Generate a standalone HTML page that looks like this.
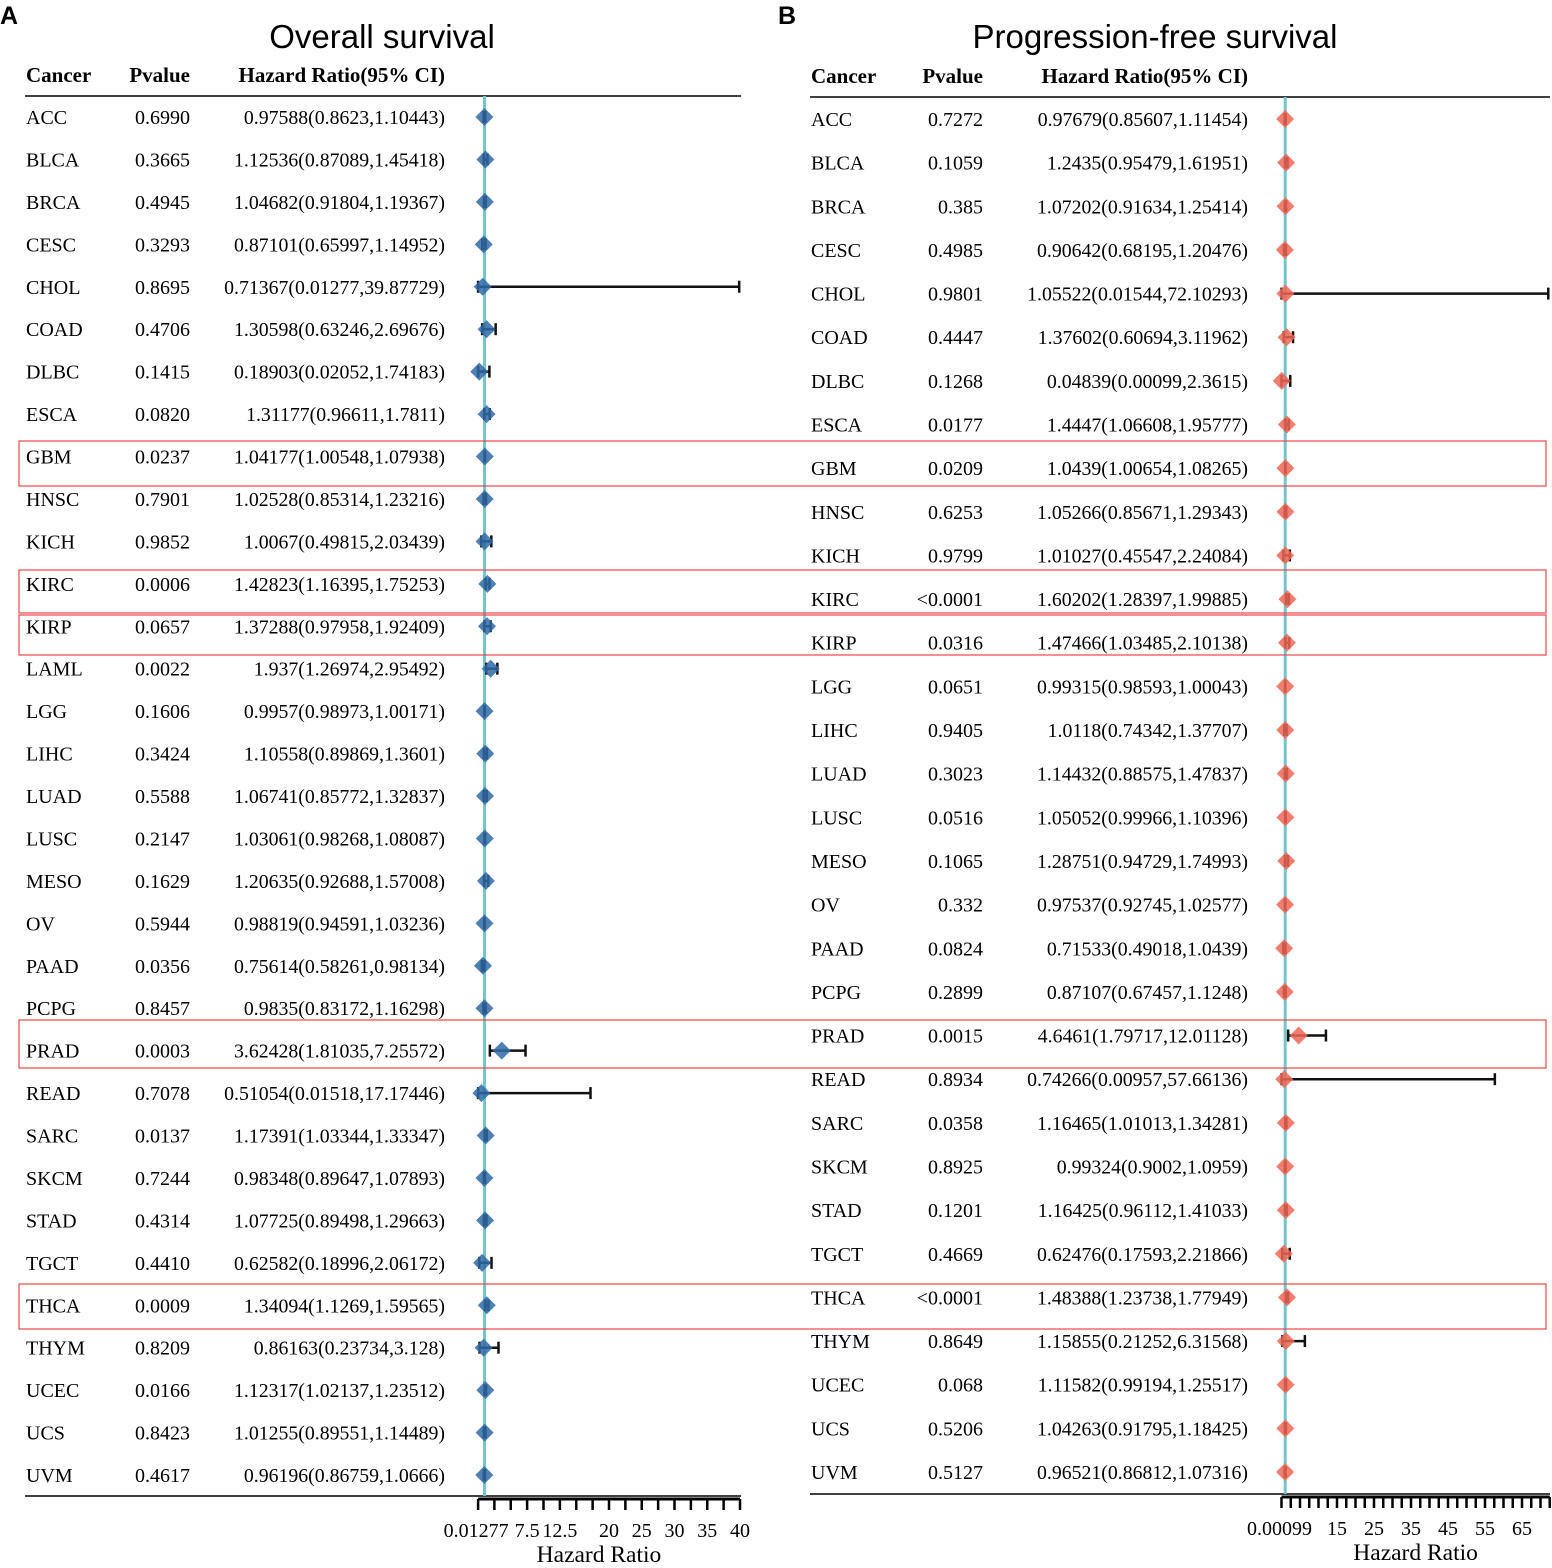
<!DOCTYPE html>
<html><head><meta charset="utf-8">
<style>
body{margin:0;background:#fff;}
</style></head>
<body>
<svg id="chart" width="1552" height="1563" viewBox="0 0 1552 1563" xmlns="http://www.w3.org/2000/svg" font-family="Liberation Serif, serif"></svg>
<script>
const cancers=["ACC","BLCA","BRCA","CESC","CHOL","COAD","DLBC","ESCA","GBM","HNSC","KICH","KIRC","KIRP","LAML","LGG","LIHC","LUAD","LUSC","MESO","OV","PAAD","PCPG","PRAD","READ","SARC","SKCM","STAD","TGCT","THCA","THYM","UCEC","UCS","UVM"];
const osP=["0.6990","0.3665","0.4945","0.3293","0.8695","0.4706","0.1415","0.0820","0.0237","0.7901","0.9852","0.0006","0.0657","0.0022","0.1606","0.3424","0.5588","0.2147","0.1629","0.5944","0.0356","0.8457","0.0003","0.7078","0.0137","0.7244","0.4314","0.4410","0.0009","0.8209","0.0166","0.8423","0.4617"];
const osHR=[0.97588,1.12536,1.04682,0.87101,0.71367,1.30598,0.18903,1.31177,1.04177,1.02528,1.0067,1.42823,1.37288,1.937,0.9957,1.10558,1.06741,1.03061,1.20635,0.98819,0.75614,0.9835,3.62428,0.51054,1.17391,0.98348,1.07725,0.62582,1.34094,0.86163,1.12317,1.01255,0.96196];
const osLo=[0.8623,0.87089,0.91804,0.65997,0.01277,0.63246,0.02052,0.96611,1.00548,0.85314,0.49815,1.16395,0.97958,1.26974,0.98973,0.89869,0.85772,0.98268,0.92688,0.94591,0.58261,0.83172,1.81035,0.01518,1.03344,0.89647,0.89498,0.18996,1.1269,0.23734,1.02137,0.89551,0.86759];
const osHi=[1.10443,1.45418,1.19367,1.14952,39.87729,2.69676,1.74183,1.7811,1.07938,1.23216,2.03439,1.75253,1.92409,2.95492,1.00171,1.3601,1.32837,1.08087,1.57008,1.03236,0.98134,1.16298,7.25572,17.17446,1.33347,1.07893,1.29663,2.06172,1.59565,3.128,1.23512,1.14489,1.0666];
const pfsCancers=["ACC","BLCA","BRCA","CESC","CHOL","COAD","DLBC","ESCA","GBM","HNSC","KICH","KIRC","KIRP","LGG","LIHC","LUAD","LUSC","MESO","OV","PAAD","PCPG","PRAD","READ","SARC","SKCM","STAD","TGCT","THCA","THYM","UCEC","UCS","UVM"];
const pfsP=["0.7272","0.1059","0.385","0.4985","0.9801","0.4447","0.1268","0.0177","0.0209","0.6253","0.9799","<0.0001","0.0316","0.0651","0.9405","0.3023","0.0516","0.1065","0.332","0.0824","0.2899","0.0015","0.8934","0.0358","0.8925","0.1201","0.4669","<0.0001","0.8649","0.068","0.5206","0.5127"];
const pfsHR=[0.97679,1.2435,1.07202,0.90642,1.05522,1.37602,0.04839,1.4447,1.0439,1.05266,1.01027,1.60202,1.47466,0.99315,1.0118,1.14432,1.05052,1.28751,0.97537,0.71533,0.87107,4.6461,0.74266,1.16465,0.99324,1.16425,0.62476,1.48388,1.15855,1.11582,1.04263,0.96521];
const pfsLo=[0.85607,0.95479,0.91634,0.68195,0.01544,0.60694,0.00099,1.06608,1.00654,0.85671,0.45547,1.28397,1.03485,0.98593,0.74342,0.88575,0.99966,0.94729,0.92745,0.49018,0.67457,1.79717,0.00957,1.01013,0.9002,0.96112,0.17593,1.23738,0.21252,0.99194,0.91795,0.86812];
const pfsHi=[1.11454,1.61951,1.25414,1.20476,72.10293,3.11962,2.3615,1.95777,1.08265,1.29343,2.24084,1.99885,2.10138,1.00043,1.37707,1.47837,1.10396,1.74993,1.02577,1.0439,1.1248,12.01128,57.66136,1.34281,1.0959,1.41033,2.21866,1.77949,6.31568,1.25517,1.18425,1.07316];
const osTickLabels=["0.01277","7.5","12.5","20","25","30","35","40"];
const osTickVals=[0.01277,7.5,12.5,20,25,30,35,40];
const pfsTickLabels=["0.00099","15","25","35","45","55","65"];
const pfsTickVals=[0.00099,15,25,35,45,55,65];

const svg=document.getElementById('chart');
const NS="http://www.w3.org/2000/svg";
const SANS='font-family:"Liberation Sans",sans-serif';
function mk(tag,attrs,name,txt){const e=document.createElementNS(NS,tag);for(const k in attrs)e.setAttribute(k,attrs[k]);


if(txt!==undefined)e.textContent=txt;svg.appendChild(e);return e;}

function panel(cfg){
  const {names,p,hr,lo,hi,x0,xs,y0,dy,colC,colP,colH,title,titleX,color,lineTop,lineBot,lineL,lineR,axMax,tickStep,tv,tl,letter,letterX,hdrY}=cfg;
  const X=v=>x0+v*xs;
  mk('text',{x:letterX,y:24,style:SANS,'font-size':25,'font-weight':'bold'},'panel-label-'+letter,letter);
  mk('text',{x:titleX,y:48,'text-anchor':'middle',style:SANS,'font-size':33},'panel-title-'+letter,title);
  mk('text',{x:colC,y:hdrY,'font-size':21,'font-weight':'bold'},'header-cancer-'+letter,'Cancer');
  mk('text',{x:colP,y:hdrY,'font-size':21,'font-weight':'bold','text-anchor':'end'},'header-pvalue-'+letter,'Pvalue');
  mk('text',{x:colH,y:hdrY,'font-size':21,'font-weight':'bold','text-anchor':'end'},'header-hr-'+letter,'Hazard Ratio(95% CI)');
  mk('line',{x1:lineL,x2:lineR,y1:lineTop,y2:lineTop,stroke:'#000','stroke-width':1.5},'header-rule-'+letter);
  mk('line',{x1:lineL,x2:lineR,y1:lineBot,y2:lineBot,stroke:'#000','stroke-width':1.5},'bottom-rule-'+letter);
  mk('line',{x1:X(1),x2:X(1),y1:lineTop,y2:lineBot,stroke:'#74c4cc','stroke-width':3},'reference-line-'+letter);
  names.forEach((n,i)=>{
    const y=y0+i*dy;
    mk('text',{x:colC,y:y+7,'font-size':20},'cancer-label',n);
    mk('text',{x:colP,y:y+7,'font-size':20,'text-anchor':'end'},'pvalue-label',p[i]);
    mk('text',{x:colH,y:y+7,'font-size':19.8,'text-anchor':'end'},'hr-label',`${hr[i]}(${lo[i]},${hi[i]})`);
    const a=X(lo[i]),b=X(hi[i]);
    mk('line',{x1:a,x2:b,y1:y,y2:y,stroke:'#111','stroke-width':2.5},'ci-line');
    mk('line',{x1:a,x2:a,y1:y-6,y2:y+6,stroke:'#111','stroke-width':2.5},'ci-cap-low');
    mk('line',{x1:b,x2:b,y1:y-6,y2:y+6,stroke:'#111','stroke-width':2.5},'ci-cap-high');
    const c=X(hr[i]),s=9;
    mk('polygon',{points:`${c-s},${y} ${c},${y-s} ${c+s},${y} ${c},${y+s}`,fill:color,'fill-opacity':0.85},'hr-marker');
  });
  const ay=lineBot+3;
  mk('line',{x1:X(tv[0]),x2:X(axMax),y1:ay,y2:ay,stroke:'#000','stroke-width':3},'x-axis-'+letter);
  for(let v=0;v<=axMax+0.001;v+=tickStep){
    const vv=v===0?tv[0]:v;
    mk('line',{x1:X(vv),x2:X(vv),y1:ay,y2:ay+11,stroke:'#000','stroke-width':2.5},'x-tick');
  }
  tv.forEach((v,i)=>{
    mk('text',{x:X(v)+(i===0?-2:0),y:ay+38,'font-size':20,'text-anchor':'middle'},'x-tick-label',tl[i]);
  });
  mk('text',{x:X(axMax*0.5)+(letter==='A'?-10:0),y:ay+63,'font-size':23.5,'text-anchor':'middle'},'x-axis-title-'+letter,'Hazard Ratio');
}
panel({names:cancers,p:osP,hr:osHR,lo:osLo,hi:osHi,x0:478,xs:6.55,y0:117,dy:(1475-117)/32,colC:26,colP:190,colH:445,
 title:'Overall survival',titleX:382,color:'#2f6aa6',lineTop:96,lineBot:1496,lineL:25,lineR:741,axMax:40,tickStep:2.5,
 tv:osTickVals,tl:osTickLabels,letter:'A',letterX:0,hdrY:82});
panel({names:pfsCancers,p:pfsP,hr:pfsHR,lo:pfsLo,hi:pfsHi,x0:1281.5,xs:3.7,y0:119,dy:(1472-119)/31,colC:811,colP:983,colH:1248,
 title:'Progression-free survival',titleX:1155,color:'#ee6655',lineTop:97,lineBot:1494,lineL:810,lineR:1550,axMax:72.5,tickStep:2.5,
 tv:pfsTickVals,tl:pfsTickLabels,letter:'B',letterX:778,hdrY:83});
const boxY=[[441,486],[570,613],[615,655],[1020,1068],[1284,1329]];
boxY.forEach(b=>{
  const r=document.createElementNS(NS,'rect');
  r.setAttribute('x',19);r.setAttribute('y',b[0]);r.setAttribute('width',1527);r.setAttribute('height',b[1]-b[0]);
  r.setAttribute('fill','none');r.setAttribute('stroke','#e8474a');r.setAttribute('stroke-width',1.2);
  
  
  svg.appendChild(r);
});
</script>
</body></html>
